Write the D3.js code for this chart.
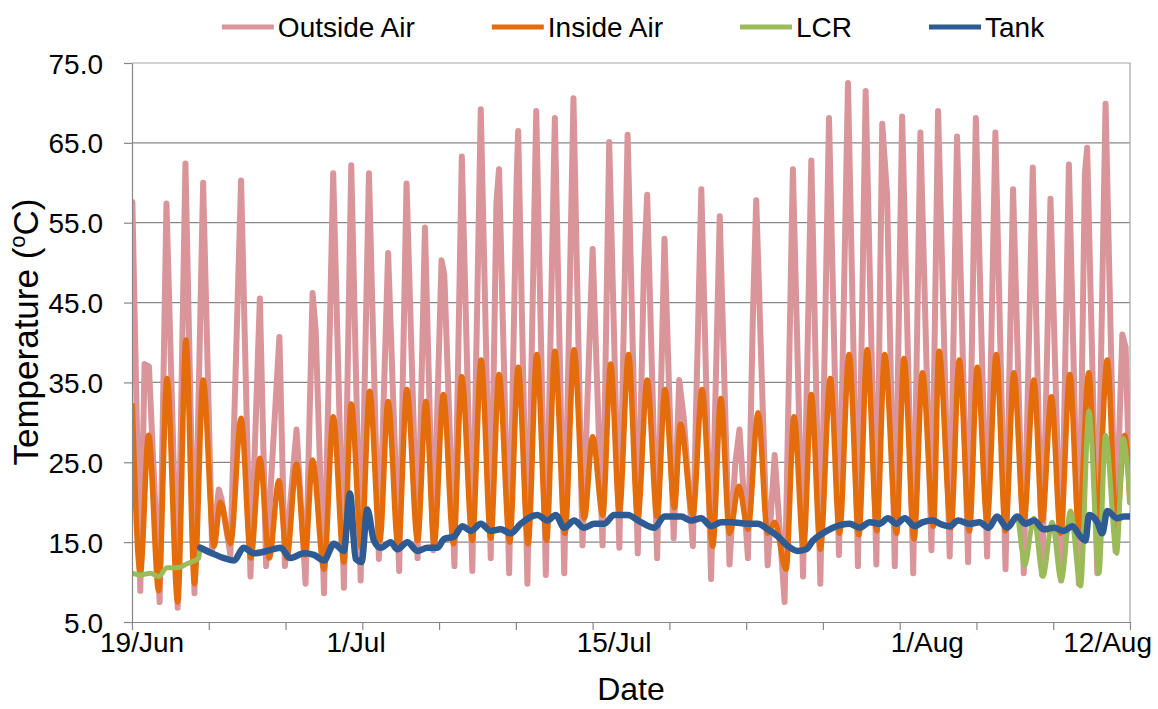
<!DOCTYPE html>
<html>
<head>
<meta charset="utf-8">
<script src="https://cdn.jsdelivr.net/npm/d3@7"></script>
<style>
  body { margin: 0; background: #fff; }
  svg { display: block; }
  text { font-family: "Liberation Sans", Arial, sans-serif; fill: #000; }
</style>
</head>
<body>
<svg id="chart" width="1158" height="709"></svg>
<script>
// Elapsed time is logged in hours from 19 June; points below are [day, °C].
const hourTicks = d3.range(0, 1301, 100);
const tempTicks = [5, 15, 25, 35, 45, 55, 65, 75];
const dateLabels = ["19/Jun", "1/Jul", "15/Jul", "1/Aug", "12/Aug"];
const dateDays = [0, 12, 26, 43, 54];
const seriesNames = ["Outside Air", "Inside Air", "LCR", "Tank"];

const outsideAir = [
  [0.02,57.6],[0.45,8.9],[0.68,37.3],[0.92,37.0],[1.5,7.5],[1.87,57.4],[2.48,6.8],[2.9,62.4],
  [3.39,8.6],[3.86,60.0],[4.35,14.0],[4.71,21.6],[4.85,20.5],[5.34,13.4],[5.92,60.3],[6.43,10.7],
  [6.94,45.5],[7.28,12.0],[8.0,40.7],[8.3,12.0],[8.93,29.1],[9.42,9.8],[9.8,46.2],[9.97,41.5],
  [10.42,8.6],[10.92,61.2],[11.5,9.3],[11.9,62.2],[12.41,10.2],[12.86,61.2],[13.0,48.5],[13.4,12.9],
  [13.9,51.2],[14.5,11.4],[14.9,59.9],[15.5,13.0],[15.9,54.4],[16.35,14.0],[16.8,50.3],[16.95,48.5],
  [17.5,12.0],[17.9,63.3],[18.47,11.4],[18.93,69.2],[19.47,13.0],[19.78,57.6],[19.92,61.7],[20.47,11.1],
  [20.88,60.8],[20.96,66.5],[21.46,9.8],[21.94,69.0],[22.46,10.9],[22.95,68.1],[23.46,11.1],[23.96,70.6],
  [24.45,14.6],[25.0,51.7],[25.54,14.6],[25.9,65.1],[26.45,14.3],[26.9,66.0],[27.45,13.6],[27.78,48.9],
  [27.96,58.5],[28.5,13.0],[28.9,53.0],[29.4,15.5],[29.7,35.3],[29.95,30.5],[30.44,14.5],[30.9,59.2],
  [31.43,10.4],[31.9,55.8],[32.43,12.2],[32.74,24.8],[32.97,29.1],[33.43,13.0],[33.7,43.5],[33.88,57.8],
  [34.5,12.1],[34.88,25.9],[35.42,7.5],[35.87,61.7],[36.42,10.7],[36.87,62.8],[37.36,9.8],[37.83,68.1],
  [38.37,13.4],[38.86,72.5],[39.4,12.0],[39.82,71.5],[40.4,12.2],[40.72,67.4],[40.98,58.5],[41.4,12.0],
  [41.8,68.3],[42.4,11.1],[42.79,66.3],[43.39,14.0],[43.75,69.0],[44.38,13.2],[44.78,65.8],[45.38,12.5],
  [45.8,68.1],[46.41,13.2],[46.86,66.3],[47.41,11.6],[47.82,59.2],[48.4,11.1],[48.89,61.9],[49.4,10.9],
  [49.85,58.0],[50.43,10.2],[50.85,62.3],[51.39,9.8],[51.72,61.2],[51.84,64.4],[52.39,11.1],[52.84,69.9],
  [53.38,13.9],[53.75,41.0],[53.93,39.4],[54.16,20.0]
];

const insideAir = [
  [0.02,32.1],[0.45,11.1],[0.9,28.4],[1.45,8.9],[1.9,35.5],[2.48,7.5],[2.93,40.3],[3.39,9.8],
  [3.86,35.3],[4.45,14.5],[4.8,20.0],[5.35,14.8],[5.92,30.5],[6.45,13.0],[6.94,25.5],[7.45,13.0],
  [7.97,22.7],[8.4,13.0],[8.93,24.8],[9.4,13.4],[9.8,25.3],[10.42,11.6],[10.92,30.7],[11.5,12.5],
  [11.9,32.3],[12.45,14.3],[12.9,33.9],[13.45,15.2],[13.9,32.6],[14.45,14.3],[14.92,34.1],[15.5,15.2],
  [15.95,32.6],[16.4,14.8],[16.9,33.5],[17.45,14.8],[17.9,35.7],[18.47,15.2],[18.95,37.8],[19.47,15.5],
  [19.92,36.0],[20.5,15.0],[20.96,36.9],[21.5,14.8],[21.97,38.5],[22.5,15.2],[22.95,38.9],[23.5,16.1],
  [23.99,39.1],[24.55,18.0],[25.0,28.2],[25.55,18.4],[25.98,37.3],[26.45,18.9],[26.95,38.5],[27.45,18.0],
  [27.96,35.3],[28.5,18.2],[28.93,34.1],[29.44,19.3],[29.77,29.8],[30.44,18.4],[30.94,34.1],[31.52,14.5],
  [31.96,33.0],[32.43,16.1],[32.94,22.0],[33.43,16.6],[33.98,31.2],[34.5,16.1],[34.88,17.5],[35.5,11.6],
  [35.93,30.7],[36.45,14.3],[36.87,33.5],[37.36,14.1],[37.9,35.5],[38.4,16.1],[38.92,38.5],[39.45,15.9],
  [39.9,39.1],[40.43,16.4],[40.85,38.5],[41.5,16.1],[41.9,38.0],[42.45,15.4],[42.9,36.2],[43.5,17.0],
  [43.8,38.9],[44.45,16.8],[44.9,37.8],[45.45,16.4],[45.88,36.9],[46.41,17.7],[46.91,38.5],[47.41,16.4],
  [47.86,36.2],[48.4,17.5],[48.95,35.3],[49.4,17.7],[49.9,33.2],[50.4,16.1],[50.9,36.0],[51.39,16.6],
  [51.93,36.2],[52.39,17.5],[52.93,37.8],[53.43,17.0],[53.88,28.4],[54.16,20.7]
];

const tank = [
  [3.71,14.3],[4.44,13.5],[5.0,13.0],[5.53,12.7],[6.07,14.3],[6.61,13.6],[7.34,13.9],[8.06,14.3],
  [8.6,13.0],[9.33,13.6],[9.87,13.4],[10.42,12.7],[10.96,14.8],[11.5,13.9],[11.83,21.1],[12.14,12.9],
  [12.46,12.5],[12.77,19.1],[13.13,15.2],[13.5,14.3],[14.04,15.0],[14.4,14.1],[14.95,15.0],[15.49,13.9],
  [16.03,14.3],[16.58,14.3],[16.94,15.4],[17.48,15.7],[17.93,17.0],[18.39,16.4],[18.93,17.3],[19.47,16.4],
  [20.0,16.6],[20.56,16.1],[21.1,17.3],[22.0,18.4],[22.55,17.7],[23.0,18.4],[23.46,16.8],[24.0,17.7],
  [24.54,16.8],[25.09,17.3],[25.63,17.3],[26.17,18.4],[26.9,18.4],[27.62,17.5],[28.35,16.8],[28.9,18.2],
  [29.8,18.2],[30.35,17.7],[30.89,18.0],[31.43,17.0],[31.98,17.5],[32.52,17.5],[33.43,17.3],[33.97,17.3],
  [34.51,16.6],[35.06,15.7],[35.6,14.5],[36.14,13.9],[36.6,14.1],[36.96,15.2],[37.5,16.1],[38.04,16.8],
  [38.95,17.3],[39.49,16.8],[40.04,17.5],[40.58,17.3],[41.03,18.0],[41.49,17.3],[41.94,18.0],[42.48,17.0],
  [42.93,17.5],[43.48,17.7],[43.84,17.3],[44.38,17.0],[44.84,17.7],[45.47,17.3],[46.0,17.5],[46.5,16.8],
  [46.95,18.2],[47.5,16.8],[48.04,18.2],[48.5,17.3],[48.95,17.7],[49.49,16.6],[50.03,16.8],[50.58,16.4],
  [51.03,17.0],[51.48,15.7],[51.75,15.2],[51.94,18.4],[52.39,17.5],[52.66,16.1],[52.93,18.9],[53.47,18.0],
  [53.84,18.2],[54.16,18.2]
];

// LCR readings: before the tank log starts, and the final week where it swings
const lcrEarly = [
  [0.02,11.1],[0.45,10.9],[1.0,11.1],[1.45,10.7],[1.9,11.8],[2.45,11.8],[2.99,12.3],[3.62,13.0]
];
const lcrLate = [
  [48.3,14.0],[48.44,12.0],[48.95,18.0],[49.44,10.7],[49.94,17.5],[50.43,10.2],[50.94,18.9],[51.48,9.5],
  [51.94,31.4],[52.48,11.1],[52.84,28.4],[53.44,13.6],[53.8,28.0],[54.16,20.0]
];
// In between, the LCR sensor reads the same as the tank and lies beneath it
const lcr = [
  ...lcrEarly,
  ...tank.filter(d => d[0] < 48.1),
  ...lcrLate
];

// Presentation
const styles = {
  "Outside Air": { color: "#D9959A", width: 6, curve: d3.curveLinear },
  "Inside Air":  { color: "#E46C0A", width: 5.5, curve: d3.curveMonotoneX },
  "LCR":         { color: "#9BBB59", width: 5, curve: d3.curveMonotoneX },
  "Tank":        { color: "#2E5B94", width: 6.5, curve: d3.curveMonotoneX }
};
const seriesData = [outsideAir, insideAir, lcr, tank];

const plot = { left: 132, right: 1130, top: 63, bottom: 622 };
const svg = d3.select("#chart");

const x = d3.scaleLinear().domain([0, 1300]).range([plot.left, plot.right]);
const y = d3.scaleLinear().domain([5, 75]).range([plot.bottom, plot.top]);

// Horizontal gridlines
svg.append("g")
  .selectAll("line")
  .data(tempTicks.filter(t => t > 5 && t < 75))
  .join("line")
  .attr("x1", plot.left).attr("x2", plot.right)
  .attr("y1", d => y(d)).attr("y2", d => y(d))
  .attr("stroke", "#878787").attr("stroke-width", 1.2);

// Plot frame (top and right)
svg.append("path")
  .attr("d", `M${plot.left},${y(75)}H${plot.right}V${plot.bottom}`)
  .attr("fill", "none").attr("stroke", "#A8A8A8").attr("stroke-width", 1.2);

// Series lines
svg.append("clipPath").attr("id", "plot-clip")
  .append("rect")
  .attr("x", plot.left).attr("y", plot.top - 4)
  .attr("width", plot.right - plot.left).attr("height", plot.bottom - plot.top + 4);

const lines = svg.append("g").attr("clip-path", "url(#plot-clip)");
seriesNames.forEach((name, i) => {
  const st = styles[name];
  const gen = d3.line()
    .x(d => x(d[0] * 24))
    .y(d => y(d[1]))
    .curve(st.curve);
  lines.append("path")
    .datum(seriesData[i])
    .attr("d", gen)
    .attr("fill", "none")
    .attr("stroke", st.color)
    .attr("stroke-width", st.width)
    .attr("stroke-linejoin", "round")
    .attr("stroke-linecap", "round");
});

// Y axis
const yAxis = svg.append("g")
  .attr("transform", `translate(${plot.left},0)`)
  .call(d3.axisLeft(y).tickValues(tempTicks).tickFormat(d3.format(".1f"))
    .tickSize(8).tickPadding(21).tickSizeOuter(0));
yAxis.selectAll("text").style("font-size", "28px").attr("dy", "0.36em");
yAxis.selectAll("line").attr("stroke", "#878787").attr("stroke-width", 1.2);
yAxis.select(".domain").attr("stroke", "#878787").attr("stroke-width", 1.2);

// X axis: ticks every 100 h
const xAxis = svg.append("g")
  .attr("transform", `translate(0,${plot.bottom})`)
  .call(d3.axisBottom(x).tickValues(hourTicks).tickFormat("").tickSize(8).tickSizeOuter(0));
xAxis.selectAll("line").attr("stroke", "#878787").attr("stroke-width", 1.2);
xAxis.select(".domain").attr("stroke", "#878787").attr("stroke-width", 1.2);

// Date labels at their day positions, kept inside the figure edges
const labelMin = 100, labelMax = 1152;
const dl = svg.append("g");
dateLabels.forEach((lab, i) => {
  const t = dl.append("text")
    .attr("y", 652)
    .attr("text-anchor", "middle")
    .style("font-size", "28px")
    .text(lab);
  const w = t.node().getComputedTextLength();
  let cx = x(dateDays[i] * 24) + 3;
  cx = Math.max(labelMin + w / 2, Math.min(labelMax - w / 2, cx));
  t.attr("x", cx);
});

// Axis titles
svg.append("text")
  .attr("x", (plot.left + plot.right) / 2)
  .attr("y", 700)
  .attr("text-anchor", "middle")
  .style("font-size", "32px")
  .text("Date");

const yt = svg.append("text")
  .attr("transform", "translate(38,332) rotate(-90)")
  .attr("text-anchor", "middle")
  .style("font-size", "35px");
yt.append("tspan").text("Temperature (");
yt.append("tspan").attr("dy", -13).style("font-size", "22px").text("o");
yt.append("tspan").attr("dy", 13).text("C)");

// Legend
const legend = svg.append("g");
const legendY = 27, swatch = 52, gapText = 4, gapItem = 77;
let cursor = 0;
seriesNames.forEach(name => {
  const g = legend.append("g");
  g.append("line")
    .attr("x1", 0).attr("x2", swatch)
    .attr("y1", legendY).attr("y2", legendY)
    .attr("stroke", styles[name].color)
    .attr("stroke-width", 5);
  const t = g.append("text")
    .attr("x", swatch + gapText)
    .attr("y", legendY + 10)
    .style("font-size", "28px")
    .text(name);
  const w = swatch + gapText + t.node().getComputedTextLength();
  g.attr("transform", `translate(${cursor},0)`);
  cursor += w + gapItem;
});
const total = cursor - gapItem;
legend.attr("transform", `translate(${633 - total / 2},0)`);
</script>
</body>
</html>
